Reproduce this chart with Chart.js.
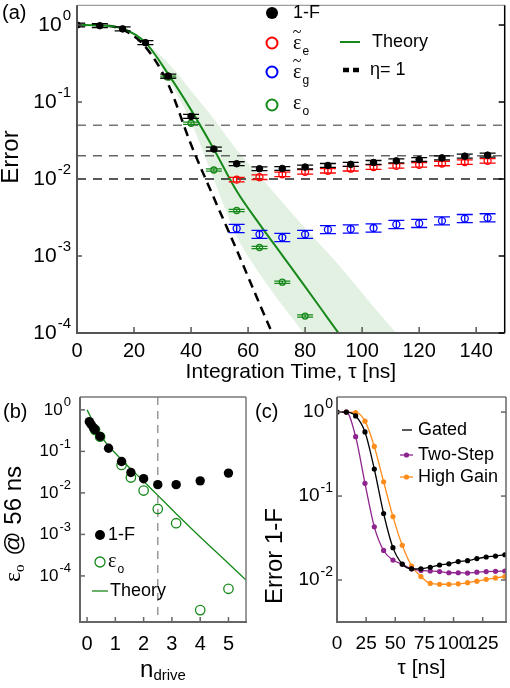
<!DOCTYPE html>
<html><head><meta charset="utf-8">
<script src="https://cdn.jsdelivr.net/npm/chart.js@4.4.1/dist/chart.umd.min.js"></script>
<style>
html,body{margin:0;padding:0;background:#fff;}
#wrap{position:relative;width:510px;height:688px;overflow:hidden;background:#fff;}
canvas{position:absolute;}
</style></head><body>
<div id="wrap">
<canvas id="ca" width="510" height="390" style="left:0;top:0"></canvas>
<canvas id="cb" width="255" height="298" style="left:0;top:390px"></canvas>
<canvas id="cc" width="255" height="298" style="left:255px;top:390px"></canvas>
</div>
<script>
// ---------- Panel (a) data ----------
const tauA = [0,8,16,24,32,40,48,56,64,72,80,88,96,104,112,120,128,136,144];
const oneMinusF = [1.0,0.98,0.89,0.59,0.217,0.065,0.0245,0.0158,0.0136,0.0137,0.0143,0.0150,0.0155,0.0164,0.0172,0.0179,0.0188,0.0198,0.0204];
const tauLate = [56,64,72,80,88,96,104,112,120,128,136,144];
const epsE = [0.0098,0.01055,0.0115,0.0124,0.0128,0.0136,0.0143,0.0148,0.0153,0.0159,0.0166,0.0172];
const epsG = [0.00228,0.00191,0.00174,0.00191,0.0022,0.00224,0.00231,0.00257,0.00265,0.00286,0.00306,0.00313];
const tauO = [32,40,48,56,64,72,80];
const epsO = [0.21,0.053,0.0131,0.0039,0.00129,0.000457,0.000166];
const tauTheory = [0,8,16,24,32,40,48,56,64,72,80,88,96];
const theoryA = [1.0,0.99,0.9,0.59,0.23,0.079,0.0244,0.007,0.0026,0.00102,0.0004,0.000155,0.00006];
const tauEta = [0,8,16,24,32,40,48,56,64,72];
const etaOne = [1.0,0.99,0.87,0.52,0.17,0.028,0.0057,0.0012,0.00024,0.00005];
const tauBand = [24,32,40,48,56,64,72,80,88,96,104,112,120];
const bandHi = [0.6,0.32,0.14,0.06,0.024,0.011,0.005,0.0023,0.0011,0.0005,0.00022,0.0001,0.000045];
const bandLo = [0.59,0.2,0.054,0.0098,0.0018,0.00059,0.00023,0.000095,0.000038,0.000015,0.000006,0.0000024,0.000001];
const refLevels = [0.05,0.02,0.01];
const errOneMinusF = 0.06, errEpsE = 0.07, errEpsG = 0.13, errEpsO = 0.035;
const xTicksA = [0,20,40,60,80,100,120,140];
const yExpA = [0,-1,-2,-3,-4];

// ---------- Panel (b) data ----------
const nBlack = [0.08,0.14,0.22,0.28,0.46,0.76,1.22,1.55,2.0,2.5,3.15,4.0,5.0];
const oneMinusFb = [0.52,0.45,0.375,0.335,0.23,0.119,0.057,0.031,0.022,0.0158,0.0158,0.0195,0.030];
const nGreen = [0.28,0.46,1.22,1.55,2.0,2.5,3.15,4.0,5.0];
const epsOb = [0.33,0.225,0.047,0.0234,0.0114,0.0041,0.00186,0.000015,0.000049];
const nTheory = [0,0.46,1.22,2.0,2.5,3.15,4.0,5.0,5.62];
const theoryB = [1,0.25,0.063,0.019,0.0087,0.00316,0.00087,0.0002,0.0000794];
const nDriveMark = [2.5];
const xTicksB = [0,1,2,3,4,5];
const yExpB = [0,-1,-2,-3,-4];

// ---------- Panel (c) data ----------
const tauC = [0,8,16,24,32,40,48,56,64,72,80,88,96,104,112,120,128,136,144];
const gated = [1.0,1.0,0.90,0.58,0.21,0.062,0.0243,0.0155,0.0136,0.0136,0.0142,0.0151,0.0156,0.0166,0.017,0.018,0.0188,0.0193,0.020];
const twoStep = [1.0,1.0,0.51,0.142,0.043,0.0225,0.0173,0.0154,0.0136,0.013,0.0128,0.0126,0.0122,0.0122,0.0121,0.0124,0.0126,0.0127,0.0128];
const highGain = [1.0,1.0,0.99,0.78,0.39,0.148,0.057,0.0259,0.0147,0.011,0.0091,0.0089,0.0089,0.009,0.0093,0.0097,0.0102,0.0106,0.011];
const xTicksC = [0,25,50,75,100,125];
const yExpC = [0,-1,-2];

// ---------- helpers ----------
const FONT = "'Liberation Sans', Arial, Helvetica, sans-serif";
const SERIF = "'Liberation Serif', 'Times New Roman', serif";
const GREEN = '#16891a';
const pts = (xs, ys) => xs.map((x, i) => ({x: x, y: ys[i]}));

function seg(ctx, x1, y1, x2, y2, color, w, dash) {
  ctx.save(); ctx.strokeStyle = color; ctx.lineWidth = w; ctx.setLineDash(dash || []);
  ctx.beginPath(); ctx.moveTo(x1, y1); ctx.lineTo(x2, y2); ctx.stroke(); ctx.restore();
}
function circ(ctx, x, y, r, fill, stroke, w) {
  ctx.save(); ctx.beginPath(); ctx.arc(x, y, r, 0, Math.PI * 2);
  if (fill) { ctx.fillStyle = fill; ctx.fill(); }
  if (stroke) { ctx.strokeStyle = stroke; ctx.lineWidth = w; ctx.stroke(); }
  ctx.restore();
}
function text(ctx, s, x, y, font, align) {
  ctx.save(); ctx.font = font; ctx.fillStyle = '#000'; ctx.textAlign = align || 'left';
  ctx.textBaseline = 'middle'; ctx.fillText(s, x, y); ctx.restore();
}
function drawPow(ctx, xRight, y, exp, baseSize, supSize, raise) {
  const sup = exp === 0 ? '0' : '-' + Math.abs(exp);
  ctx.save(); ctx.fillStyle = '#000'; ctx.textBaseline = 'middle'; ctx.textAlign = 'left';
  ctx.font = supSize + 'px ' + FONT; const ws = ctx.measureText(sup).width;
  ctx.font = baseSize + 'px ' + FONT; const wb = ctx.measureText('10').width;
  const x0 = xRight - ws - wb - 1;
  ctx.fillText('10', x0, y);
  ctx.font = supSize + 'px ' + FONT; ctx.fillText(sup, x0 + wb + 1, y - raise);
  ctx.restore();
}
function runs(ctx, items, cx, cy, rot) {
  ctx.save(); ctx.translate(cx, cy); ctx.rotate(rot || 0);
  ctx.fillStyle = '#000'; ctx.textBaseline = 'middle'; ctx.textAlign = 'left';
  let tot = 0; items.forEach(r => { ctx.font = r.font; r.w = ctx.measureText(r.t).width; tot += r.w + (r.gap || 0); });
  let x = -tot / 2;
  items.forEach(r => { ctx.font = r.font; ctx.fillText(r.t, x, r.dy || 0); x += r.w + (r.gap || 0); });
  ctx.restore();
}
function drawEps(ctx, x, y, sub, tilde, size) {
  ctx.save(); ctx.fillStyle = '#000'; ctx.textBaseline = 'middle'; ctx.textAlign = 'left';
  ctx.font = size + 'px ' + SERIF; ctx.fillText('ε', x, y);
  const w = ctx.measureText('ε').width;
  if (tilde) { ctx.font = Math.round(size * 0.8) + 'px ' + SERIF; ctx.textAlign = 'center'; ctx.fillText('~', x + w / 2, y - size * 0.55); ctx.textAlign = 'left'; }
  ctx.font = Math.round(size * 0.62) + 'px ' + FONT; ctx.fillText(sub, x + w + 1, y + size * 0.38);
  ctx.restore();
}

const errPlugin = {
  id: 'errbars',
  beforeDatasetDraw(chart, args) {
    const ds = chart.data.datasets[args.index];
    if (!ds.err) return;
    const ctx = chart.ctx, ys = chart.scales.y, a = chart.chartArea;
    ctx.save();
    ctx.beginPath(); ctx.rect(a.left, a.top, a.right - a.left, a.bottom - a.top); ctx.clip();
    ctx.strokeStyle = ds.errColor; ctx.lineWidth = 1.3;
    args.meta.data.forEach((p, i) => {
      const v = ds.data[i].y;
      const yHi = ys.getPixelForValue(v * (1 + ds.err)), yLo = ys.getPixelForValue(v / (1 + ds.err));
      const x = p.x, w = 8;
      ctx.beginPath();
      ctx.moveTo(x - w, yHi); ctx.lineTo(x + w, yHi);
      ctx.moveTo(x - w, yLo); ctx.lineTo(x + w, yLo);
      ctx.moveTo(x, yHi); ctx.lineTo(x, yLo);
      ctx.stroke();
    });
    ctx.restore();
  }
};

const xTickCfg = (arr) => (s) => { s.ticks = arr.map(v => ({value: v})); };

// ---------- Panel (a) ----------
const decoA = {
  id: 'decoA',
  afterDraw(chart) {
    const ctx = chart.ctx, a = chart.chartArea, x = chart.scales.x, y = chart.scales.y;
    seg(ctx, a.left, a.top, a.right, a.top, '#888', 1);
    seg(ctx, a.right, a.top, a.right, a.bottom, '#000', 1.5);
    seg(ctx, a.left, a.top, a.left, a.bottom + 1, '#555', 2);
    seg(ctx, a.left - 1, a.bottom, a.right, a.bottom, '#555', 2);
    yExpA.forEach(e => {
      const py = y.getPixelForValue(Math.pow(10, e));
      seg(ctx, a.left, py, a.left + 5, py, '#555', 1.5);
      seg(ctx, a.right - 6, py, a.right, py, '#000', 1.5);
      drawPow(ctx, 71, py, e, 21, 15, 9);
    });
    xTicksA.forEach(v => { const px = x.getPixelForValue(v); seg(ctx, px, a.bottom, px, a.bottom - 6, '#555', 1.5); });
    text(ctx, '(a)', 2, 13, '20px ' + FONT);
    runs(ctx, [{t: 'Error', font: '24px ' + FONT}], 11, 157, -Math.PI / 2);
    // legend
    circ(ctx, 272, 13, 6, '#000', null, 0);
    text(ctx, '1-F', 293, 13, '18px ' + FONT);
    circ(ctx, 272, 43, 5.5, null, '#ff0000', 2);
    drawEps(ctx, 293, 44, 'e', true, 20);
    circ(ctx, 272, 72, 5.5, null, '#0000ff', 2);
    drawEps(ctx, 293, 73, 'g', true, 20);
    circ(ctx, 272, 105, 5.5, null, GREEN, 2);
    drawEps(ctx, 293, 104, 'o', false, 20);
    seg(ctx, 340, 42, 360, 42, GREEN, 2);
    text(ctx, 'Theory', 372, 42, '18px ' + FONT);
    seg(ctx, 343, 70, 360, 70, '#000', 4.5, [6, 4]);
    text(ctx, 'η= 1', 370, 70, '18px ' + FONT);
  }
};

new Chart(document.getElementById('ca'), {
  type: 'scatter',
  data: { datasets: [
    {label: '1-F', data: pts(tauA, oneMinusF), pointRadius: 3.3, pointBackgroundColor: '#000', pointBorderColor: '#000', pointBorderWidth: 1, err: errOneMinusF, errColor: '#000'},
    {label: 'ε̃e', data: pts(tauLate, epsE), pointRadius: 3.5, pointBackgroundColor: 'rgba(0,0,0,0)', pointBorderColor: '#ff0000', pointBorderWidth: 1.3, err: errEpsE, errColor: '#ff0000'},
    {label: 'ε̃g', data: pts(tauLate, epsG), pointRadius: 3.5, pointBackgroundColor: 'rgba(0,0,0,0)', pointBorderColor: '#0000ff', pointBorderWidth: 1.3, err: errEpsG, errColor: '#0000ff'},
    {label: 'εo', data: pts(tauO, epsO), pointRadius: 3, pointBackgroundColor: 'rgba(0,0,0,0)', pointBorderColor: GREEN, pointBorderWidth: 1.3, err: errEpsO, errColor: GREEN},
    {label: 'Theory', data: pts(tauTheory, theoryA), showLine: true, borderColor: GREEN, borderWidth: 2, pointRadius: 0, cubicInterpolationMode: 'monotone'},
    {label: 'η= 1', data: pts(tauEta, etaOne), showLine: true, borderColor: '#000', borderWidth: 2.5, borderDash: [9, 6], pointRadius: 0, cubicInterpolationMode: 'monotone'},
    {label: 'ref1', data: [{x: 0, y: refLevels[0]}, {x: 150, y: refLevels[0]}], showLine: true, borderColor: '#777', borderWidth: 1.5, borderDash: [9, 7], pointRadius: 0},
    {label: 'ref2', data: [{x: 0, y: refLevels[1]}, {x: 150, y: refLevels[1]}], showLine: true, borderColor: '#666', borderWidth: 1.5, borderDash: [9, 7], pointRadius: 0},
    {label: 'ref3', data: [{x: 0, y: refLevels[2]}, {x: 150, y: refLevels[2]}], showLine: true, borderColor: '#222', borderWidth: 1.5, borderDash: [9, 7], pointRadius: 0},
    {label: 'bandHi', data: pts(tauBand, bandHi), showLine: true, borderColor: 'rgba(0,0,0,0)', borderWidth: 0.01, pointRadius: 0, fill: '+1', backgroundColor: 'rgba(40,150,40,0.13)', cubicInterpolationMode: 'monotone'},
    {label: 'bandLo', data: pts(tauBand, bandLo), showLine: true, borderColor: 'rgba(0,0,0,0)', borderWidth: 0.01, pointRadius: 0, fill: false, cubicInterpolationMode: 'monotone'}
  ]},
  options: {
    responsive: false, animation: false, devicePixelRatio: 1,
    layout: {padding: {left: 0, right: 3, top: 1, bottom: 0}},
    plugins: {legend: {display: false}, tooltip: {enabled: false}},
    scales: {
      x: {type: 'linear', min: 0, max: 150, afterBuildTicks: xTickCfg(xTicksA), afterFit: s => { s.height = 57; },
          grid: {display: false, drawTicks: false}, border: {display: false},
          ticks: {font: {family: FONT, size: 20}, color: '#000', padding: 6, maxRotation: 0, autoSkip: false},
          title: {display: true, text: 'Integration Time, τ [ns]', font: {family: FONT, size: 21, lineHeight: 1.2}, color: '#000', padding: {top: 0, bottom: 5}}},
      y: {type: 'logarithmic', min: 1e-4, max: Math.pow(10, 0.256), afterFit: s => { s.width = 77; },
          grid: {display: false, drawTicks: false}, border: {display: false}, ticks: {display: false}}
    }
  },
  plugins: [errPlugin, decoA]
});

// ---------- Panel (b) ----------
const decoB = {
  id: 'decoB',
  afterDraw(chart) {
    const ctx = chart.ctx, a = chart.chartArea, x = chart.scales.x, y = chart.scales.y;
    seg(ctx, a.left, a.top, a.right, a.top, '#777', 1.5);
    seg(ctx, a.right, a.top, a.right, a.bottom, '#777', 1.5);
    seg(ctx, a.left, a.top, a.left, a.bottom + 1, '#666', 2);
    seg(ctx, a.left - 1, a.bottom, a.right + 1, a.bottom, '#666', 2);
    yExpB.forEach(e => {
      const py = y.getPixelForValue(Math.pow(10, e));
      seg(ctx, a.left, py, a.left + 5, py, '#666', 1.5);
      drawPow(ctx, 71, py, e, 17, 13, 7);
    });
    xTicksB.forEach(v => { const px = x.getPixelForValue(v); seg(ctx, px, a.bottom, px, a.bottom - 5, '#666', 1.5); });
    text(ctx, '(b)', 3, 22, '20px ' + FONT);
    runs(ctx, [
      {t: 'ε', font: '24px ' + SERIF},
      {t: 'o', font: '15px ' + SERIF, dy: 6, gap: 2},
      {t: ' @ 56 ns', font: '24px ' + FONT}
    ], 14, 134, -Math.PI / 2);
    runs(ctx, [
      {t: 'n', font: '24px ' + FONT},
      {t: 'drive', font: '15px ' + FONT, dy: 6}
    ], 163, 280, 0);
    circ(ctx, 100, 145, 5, '#000', null, 0);
    text(ctx, '1-F', 108, 145, '18px ' + FONT);
    circ(ctx, 100, 172, 5, null, GREEN, 1.3);
    drawEps(ctx, 108, 172, 'o', false, 20);
    seg(ctx, 92, 201, 108, 201, GREEN, 1.3);
    text(ctx, 'Theory', 110, 201, '18px ' + FONT);
  }
};

const yMinB = Math.pow(10, -5.11), yMaxB = Math.pow(10, 0.31);
new Chart(document.getElementById('cb'), {
  type: 'scatter',
  data: { datasets: [
    {label: '1-F', data: pts(nBlack, oneMinusFb), pointRadius: 4.7, pointBackgroundColor: '#000', pointBorderColor: '#000', pointBorderWidth: 0},
    {label: 'εo', data: pts(nGreen, epsOb), pointRadius: 4.7, pointBackgroundColor: 'rgba(0,0,0,0)', pointBorderColor: GREEN, pointBorderWidth: 1.3},
    {label: 'Theory', data: pts(nTheory, theoryB), showLine: true, borderColor: GREEN, borderWidth: 1.3, pointRadius: 0, cubicInterpolationMode: 'monotone'},
    {label: 'mark', data: [{x: nDriveMark[0], y: yMaxB}, {x: nDriveMark[0], y: yMinB}], showLine: true, borderColor: '#999', borderWidth: 1.5, borderDash: [8, 6], pointRadius: 0}
  ]},
  options: {
    responsive: false, animation: false, devicePixelRatio: 1,
    layout: {padding: {left: 0, right: 9, top: 7, bottom: 0}},
    plugins: {legend: {display: false}, tooltip: {enabled: false}},
    scales: {
      x: {type: 'linear', min: -0.25, max: 5.62, afterBuildTicks: xTickCfg(xTicksB), afterFit: s => { s.height = 66; },
          grid: {display: false, drawTicks: false}, border: {display: false},
          ticks: {font: {family: FONT, size: 20}, color: '#000', padding: 10, maxRotation: 0, autoSkip: false}},
      y: {type: 'logarithmic', min: yMinB, max: yMaxB, afterFit: s => { s.width = 80; },
          grid: {display: false, drawTicks: false}, border: {display: false}, ticks: {display: false}}
    }
  },
  plugins: [decoB]
});

// ---------- Panel (c) ----------
const PURPLE = '#8e248e', ORANGE = '#ff8c1a';
const decoC = {
  id: 'decoC',
  afterDraw(chart) {
    const ctx = chart.ctx, a = chart.chartArea, x = chart.scales.x, y = chart.scales.y;
    seg(ctx, a.left, a.top, a.right, a.top, '#777', 1.5);
    seg(ctx, a.right, a.top, a.right, a.bottom, '#666', 1.5);
    seg(ctx, a.left, a.top, a.left, a.bottom + 1, '#666', 2);
    seg(ctx, a.left - 1, a.bottom, a.right + 1, a.bottom, '#666', 2);
    yExpC.forEach(e => {
      const py = y.getPixelForValue(Math.pow(10, e));
      seg(ctx, a.left, py, a.left + 5, py, '#666', 1.5);
      seg(ctx, a.right - 5, py, a.right, py, '#666', 1.5);
      drawPow(ctx, 78, py, e, 19, 14, 8);
    });
    xTicksC.forEach(v => { const px = x.getPixelForValue(v); seg(ctx, px, a.bottom, px, a.bottom - 5, '#666', 1.5); });
    text(ctx, '(c)', 0, 22, '20px ' + FONT);
    runs(ctx, [{t: 'Error 1-F', font: '24px ' + FONT}], 20, 166, -Math.PI / 2);
    seg(ctx, 147, 40, 157, 40, '#000', 1.3);
    text(ctx, 'Gated', 163, 40, '18px ' + FONT);
    seg(ctx, 145, 65, 158, 65, PURPLE, 1.3); circ(ctx, 151.5, 65, 2.6, PURPLE, null, 0);
    text(ctx, 'Two-Step', 163, 65, '18px ' + FONT);
    seg(ctx, 145, 87, 158, 87, ORANGE, 1.3); circ(ctx, 151.5, 87, 2.6, ORANGE, null, 0);
    text(ctx, 'High Gain', 163, 87, '18px ' + FONT);
  }
};

new Chart(document.getElementById('cc'), {
  type: 'scatter',
  data: { datasets: [
    {label: 'Gated', data: pts(tauC, gated), showLine: true, borderColor: '#000', borderWidth: 1.3, pointRadius: 2.6, pointBackgroundColor: '#000', pointBorderWidth: 0, cubicInterpolationMode: 'monotone'},
    {label: 'Two-Step', data: pts(tauC, twoStep), showLine: true, borderColor: PURPLE, borderWidth: 1.3, pointRadius: 2.6, pointBackgroundColor: PURPLE, pointBorderWidth: 0, cubicInterpolationMode: 'monotone'},
    {label: 'High Gain', data: pts(tauC, highGain), showLine: true, borderColor: ORANGE, borderWidth: 1.3, pointRadius: 2.6, pointBackgroundColor: ORANGE, pointBorderWidth: 0, cubicInterpolationMode: 'monotone'}
  ]},
  options: {
    responsive: false, animation: false, devicePixelRatio: 1,
    layout: {padding: {left: 0, right: 2, top: 7, bottom: 0}},
    plugins: {legend: {display: false}, tooltip: {enabled: false}},
    scales: {
      x: {type: 'linear', min: 0, max: 145, afterBuildTicks: xTickCfg(xTicksC), afterFit: s => { s.height = 66; },
          grid: {display: false, drawTicks: false}, border: {display: false},
          ticks: {font: {family: FONT, size: 19}, color: '#000', padding: 10, maxRotation: 0, autoSkip: false},
          title: {display: true, text: 'τ [ns]', font: {family: FONT, size: 21, lineHeight: 1.2}, color: '#000', padding: {top: 0, bottom: 7}}},
      y: {type: 'logarithmic', min: Math.pow(10, -2.5), max: Math.pow(10, 0.18), afterFit: s => { s.width = 82; },
          grid: {display: false, drawTicks: false}, border: {display: false}, ticks: {display: false}}
    }
  },
  plugins: [decoC]
});
</script>
</body></html>
